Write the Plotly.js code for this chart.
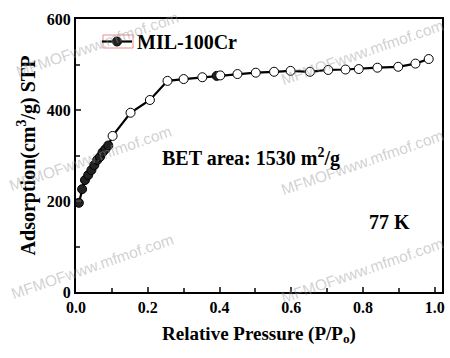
<!DOCTYPE html>
<html><head><meta charset="utf-8">
<script src="https://cdn.plot.ly/plotly-3.0.1.min.js"></script>
<style>html,body{margin:0;padding:0;background:#fff}#chart{width:450px;height:358px}</style>
</head><body><div id="chart"></div>
<script>
const pressure = [0.008,0.017,0.025,0.034,0.043,0.051,0.059,0.067,0.074,0.082,0.090,0.102,0.152,0.206,0.255,0.300,0.352,0.392,0.402,0.450,0.501,0.552,0.598,0.652,0.703,0.751,0.788,0.840,0.898,0.946,0.983];
const uptake   = [196,226,246,257,268,279,290,297,307,314,322,343,394,422,464,468,472,475,476,479,482,484,486,484,488,489,490,493,495,502,512];
const filled   = [1,1,1,1,1,1,1,1,1,1,1,0,0,0,0,0,0,1,0,0,0,0,0,0,0,0,0,0,0,0,0];
const seriesName = "MIL-100Cr";
const xTickVals = [0,0.2,0.4,0.6,0.8,1.0];
const xTickText = ["0.0","0.2","0.4","0.6","0.8","1.0"];
const yTickVals = [0,200,400,600];
const yTickText = ["0","200","400","600"];
const watermarks = [[97,44],[90,158],[92,266],[362,52],[362,162],[362,270]];

const serif = "Liberation Serif, Times New Roman, serif";
const trace = {
  x: pressure, y: uptake, type: 'scatter', mode: 'lines+markers', name: '<b>' + seriesName + '</b>',
  line: {color: '#000', width: 2.2},
  marker: {symbol: 'circle', size: 9, color: filled.map(f => f ? '#222' : '#fff'),
           line: {color: '#000', width: 1}}
};
const W = 450, H = 358, L = 76, R = 8, T = 19, B = 66;
const pw = W - L - R, ph = H - T - B;
const px = v => (v - L) / pw, py = v => (H - B - v) / ph;
const annotations = watermarks.map(([cx, cy]) => ({
  text: 'MFMOFwww.mfmof.com', xref: 'paper', yref: 'paper', xanchor: 'center', yanchor: 'middle',
  x: px(cx), y: py(cy), showarrow: false, textangle: -19,
  font: {family: 'Liberation Sans, Arial, sans-serif', size: 15.5, color: 'rgba(150,150,150,0.45)'}
}));
annotations.push({text: '<b>BET area: 1530 m<sup>2</sup>/g</b>', xref: 'paper', yref: 'paper',
  xanchor: 'center', yanchor: 'middle', x: px(251), y: py(157), showarrow: false,
  font: {family: serif, size: 20, color: '#000'}});
annotations.push({text: '<b>77 K</b>', xref: 'paper', yref: 'paper',
  xanchor: 'center', yanchor: 'middle', x: px(389), y: py(222), showarrow: false,
  font: {family: serif, size: 20, color: '#000'}});

const layout = {
  width: W, height: H, margin: {l: L, r: R, t: T, b: B},
  paper_bgcolor: '#fff', plot_bgcolor: '#fff',
  font: {family: serif, color: '#000'},
  showlegend: true,
  legend: {x: px(97), y: py(22), xanchor: 'left', yanchor: 'top', bgcolor: 'rgba(0,0,0,0)',
           itemwidth: 30, font: {family: serif, size: 20, color: '#000'}},
  xaxis: {range: [0, 1.02], tickvals: xTickVals, ticktext: xTickText.map(t => '<b>' + t + '</b>'),
          ticks: 'inside', ticklen: 5, tickwidth: 2,
          showline: true, linewidth: 2, linecolor: '#000', mirror: true, showgrid: false, zeroline: false,
          tickfont: {family: serif, size: 16},
          minor: {dtick: 0.1, ticks: 'inside', ticklen: 4, tickwidth: 2, showgrid: false},
          title: {text: '<b>Relative Pressure (P/P<sub>o</sub>)</b>', font: {family: serif, size: 19}, standoff: 11}},
  yaxis: {range: [0, 600], tickvals: yTickVals, ticktext: yTickText.map(t => '<b>' + t + '</b>'),
          ticks: 'inside', ticklen: 5, tickwidth: 2,
          showline: true, linewidth: 2, linecolor: '#000', mirror: true, showgrid: false, zeroline: false,
          tickfont: {family: serif, size: 16},
          minor: {dtick: 100, ticks: 'inside', ticklen: 4, tickwidth: 2, showgrid: false},
          title: {text: '<b>Adsorption(cm<sup>3</sup>/g) STP</b>', font: {family: serif, size: 20}, standoff: 6}},
  shapes: [{type: 'rect', xref: 'paper', yref: 'paper', layer: 'above',
            x0: px(103), x1: px(133), y0: py(48), y1: py(35),
            line: {color: '#e09090', width: 1}}],
  annotations: annotations
};
Plotly.newPlot('chart', [trace], layout, {displayModeBar: false, staticPlot: true});
</script></body></html>
